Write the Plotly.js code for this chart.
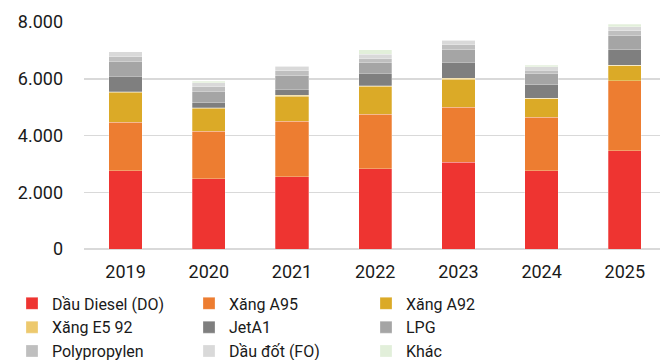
<!DOCTYPE html>
<html>
<head>
<meta charset="utf-8">
<script src="https://cdn.plot.ly/plotly-3.0.1.min.js"></script>
<style>html,body{margin:0;padding:0;background:#fff;}#chart{width:660px;height:360px;}</style>
</head>
<body>
<div id="chart"></div>
<script>
const years = ['2019', '2020', '2021', '2022', '2023', '2024', '2025'];
const seriesNames = ['Dầu Diesel (DO)', 'Xăng A95', 'Xăng A92', 'Xăng E5 92', 'JetA1', 'LPG', 'Polypropylen', 'Dầu đốt (FO)', 'Khác'];
const dieselDO = [2760, 2470, 2555, 2825, 3050, 2765, 3460];
const xangA95 = [1700, 1675, 1940, 1920, 1940, 1870, 2470];
const xangA92 = [1060, 810, 885, 965, 1000, 655, 530];
const xangE5 = [30, 30, 30, 35, 20, 20, 20];
const jetA1 = [545, 170, 215, 450, 570, 475, 545];
const lpg = [505, 410, 480, 375, 445, 390, 495];
const polypropylen = [175, 150, 175, 140, 175, 130, 175];
const dauDotFO = [175, 140, 155, 155, 155, 115, 140];
const khac = [10, 60, 10, 165, 10, 60, 85];
const yTickVals = [0, 2000, 4000, 6000, 8000];
const yTickText = ['0', '2.000', '4.000', '6.000', '8.000'];

const seriesValues = [dieselDO, xangA95, xangA92, xangE5, jetA1, lpg, polypropylen, dauDotFO, khac];
const colors = ['#EE3431', '#ED7D31', '#DBAA27', '#EDC96E', '#7F7F7F', '#A5A5A5', '#BFBFBF', '#D9D9D9', '#E2EFDA'];

const traces = seriesValues.map((vals, i) => ({
  type: 'bar',
  name: seriesNames[i],
  x: years,
  y: vals,
  marker: {color: colors[i], line: {color: 'rgba(255,255,255,0.45)', width: 0.6}},
  hoverinfo: 'name+y'
}));

const layout = {
  width: 660, height: 360,
  margin: {l: 84, r: 0, t: 22, b: 111, autoexpand: false},
  paper_bgcolor: '#fff', plot_bgcolor: '#fff',
  barmode: 'stack',
  bargap: 0.6,
  font: {family: 'Roboto, "Open Sans", sans-serif', color: '#1a1a1a'},
  showlegend: true,
  xaxis: {
    type: 'category',
    range: [-0.5, 6.423],
    showgrid: false,
    showline: false,
    zeroline: false,
    ticks: '',
    ticklabelstandoff: 10,
    tickfont: {size: 18, color: '#1a1a1a'},
    fixedrange: true
  },
  yaxis: {
    range: [0, 8000],
    tickvals: yTickVals,
    ticktext: yTickText,
    showgrid: true,
    gridcolor: '#D9D9D9',
    gridwidth: 1.5,
    zeroline: true,
    zerolinecolor: '#D9D9D9',
    zerolinewidth: 1.5,
    ticks: '',
    ticklabelstandoff: 20,
    tickfont: {size: 18, color: '#1a1a1a'},
    fixedrange: true
  },
  legend: {
    orientation: 'h',
    traceorder: 'normal',
    x: -0.125, xanchor: 'left',
    y: -0.165, yanchor: 'top',
    entrywidth: 132,
    entrywidthmode: 'pixels',
    font: {size: 16, color: '#1a1a1a'},
    bgcolor: 'rgba(0,0,0,0)'
  }
};

Plotly.newPlot('chart', traces, layout, {displayModeBar: false, staticPlot: true});
</script>
</body>
</html>
